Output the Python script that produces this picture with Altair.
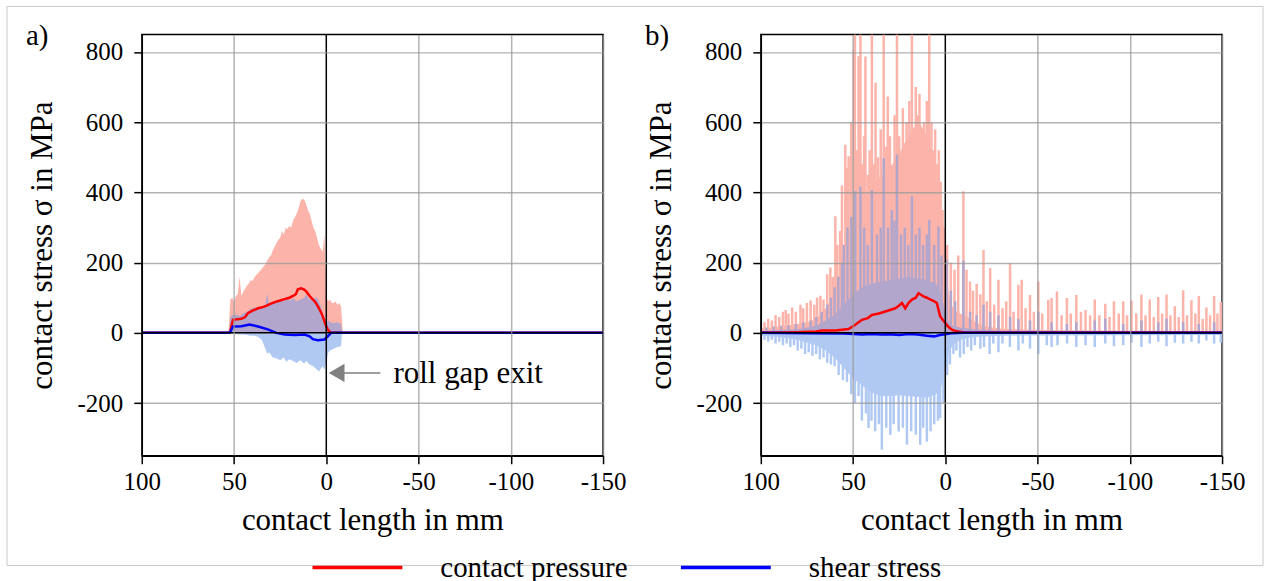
import altair as alt
import pandas as pd

FONT = "Liberation Serif"
PINK = "#fcb3a9"
PURPLE = "#b3a6cc"
LBLUE = "#b0c9f3"
GRAY = "#808080"

# ---------------- panel a: raw contact pressure (upper envelope) ----------------
pa_p_x = [53, 52, 51, 50, 49, 48, 47, 46, 45, 44, 43, 42, 41, 40, 39, 38, 37, 36, 35, 34,
          33, 32, 31, 30, 29, 28, 27, 26, 25, 24, 23, 22, 21, 20, 19, 18, 17, 16, 15, 14,
          13, 12, 11, 10, 9, 8, 7, 6, 5, 4, 3, 2, 1, 0, -1, -2, -3, -4, -5, -6, -7, -8, -9]
pa_p_hi = [0, 95, 100, 88, 105, 110, 160, 105, 118, 125, 135, 140, 150, 148, 158, 165, 170, 176, 182, 190,
           195, 205, 215, 220, 235, 245, 255, 265, 270, 290, 280, 300, 295, 305, 300, 320, 330, 340, 355, 375,
           382, 380, 368, 350, 340, 320, 300, 290, 270, 250, 240, 230, 280, 100, 90, 95, 85, 85, 90, 80, 85, 75, 0]

# panel a: raw shear stress band
pa_s_x = [52.5, 52, 51, 49, 47, 45, 43, 41, 39, 37, 35, 33, 32, 31, 29, 27, 25, 23, 21.7, 20,
          18, 16, 14, 12, 10.9, 9, 7, 5, 4, 2, 1, 0, -1, -2, -4, -6, -8, -8.5]
pa_s_hi = [0, 45, 50, 52, 48, 55, 60, 68, 72, 70, 75, 80, 113, 78, 85, 90, 95, 88, 104, 92,
           98, 90, 95, 100, 110, 95, 98, 100, 90, 60, 37, 30, 35, 30, 28, 30, 25, 0]
pa_s_lo = [0, -3, -3, -4, -5, -5, -6, -8, -8, -12, -20, -45, -60, -55, -70, -72, -78, -70, -82, -75,
           -80, -86, -78, -88, -80, -90, -95, -105, -110, -95, -105, -85, -57, -50, -45, -40, -38, 0]

# panel a: smoothed curves
pa_r_x = [100, 52.5, 52, 50.6, 46, 44, 42.5, 40, 37, 34, 32.6, 30, 27.1, 25, 22.6, 20, 18.1, 16.5,
          15.4, 13.6, 12, 10.9, 9, 7.3, 6, 4.6, 3, 1.9, 0.5, -0.8, -2.6, -150]
pa_r_y = [0, 0, 5, 37, 40, 45, 56, 63, 70, 74, 77, 83, 89, 92, 96, 100, 105, 110,
          124, 127, 123, 118, 105, 95, 88, 76, 60, 47, 25, 9, 0, 0]
pa_b_x = [100, 52.5, 52, 50.6, 46, 41.6, 37, 31.7, 27.1, 22.6, 17.2, 11.8, 9, 7.3, 4.6, 1, -0.8, -2.6, -150]
pa_b_y = [0, 0, 3, 18, 19, 24, 18, 10, 0, -5, -6, -5, -10, -18, -21, -19, -10, 0, 0]

# ---------------- panel b: raw contact pressure ----------------
pb_pb_x = [100, 90, 80, 75, 70, 66, 62, 58, 55, 52, 50, 46, 42, 38, 34, 30, 26, 22, 18, 14,
           10, 6, 3, 1, 0, -1, -3, -6, -10, -15, -20, -30, -50, -100, -150]
pb_pb_hi = [12, 18, 25, 30, 40, 60, 95, 150, 220, 290, 330, 380, 410, 430, 450, 470, 500, 540, 580, 600,
            560, 490, 400, 300, 230, 140, 80, 60, 50, 35, 20, 12, 8, 5, 5]

pb_ps_x = [98, 96, 94, 92, 90, 88, 86.5, 85, 83, 81, 78.5, 77, 75, 73, 71, 69.5, 67.7, 66, 64, 62.3,
           61, 59.6, 58.5, 57, 56, 54.2, 53.3, 52.4, 51, 49.7, 49, 48, 47, 46, 45, 44, 43.3, 42, 41, 39.8,
           38.5, 37.8, 36.5, 35, 33.4, 32.3, 31.2, 30, 28.5, 27.5, 26.2, 25, 24, 23, 22, 21, 19.5, 18.1, 17, 16,
           15, 14, 13, 11.5, 10, 8.7, 7.5, 6.5, 5.5, 4.5, 3.5, 2.5, 1.5, 0.5, -1, -3, -5, -7, -9.8, -11.5,
           -13.4, -15, -17, -19, -20.7, -22.5, -24.3, -26.5, -28.8, -31, -33, -35.1, -37, -39.6, -41.4, -43.5,
           -45.9, -48, -50.4, -52.5, -55.8, -57.6, -60.5, -63, -65.9, -68, -71, -73.5, -76, -78.5, -81, -83.5,
           -86.7, -89, -91.4, -94, -96.4, -98.5, -100.9, -103.5, -106.3, -108.5, -110.8, -113, -115.4, -117.5,
           -119.9, -122, -124.4, -126.5, -128.9, -131, -133.4, -135.5, -137.4, -139.5, -141.5, -143.5, -145.7,
           -147.5, -149.3]
pb_ps_y = [30, 40, 35, 50, 45, 60, 65, 55, 72, 60, 80, 70, 85, 92, 80, 100, 106, 95, 167, 186,
           160, 332, 250, 290, 420, 536, 470, 503, 600, 807, 850, 520, 788, 850, 480, 560, 787, 450, 520, 850,
           480, 712, 500, 580, 850, 530, 673, 560, 470, 620, 850, 560, 500, 640, 540, 600, 660, 850, 560, 700,
           620, 680, 560, 600, 660, 850, 600, 520, 580, 480, 520, 430, 350, 300, 250, 200, 180, 220, 403, 180,
           146, 120, 140, 110, 236, 90, 185, 80, 151, 70, 90, 199, 60, 137, 151, 70,
           108, 60, 146, 55, 94, 99, 118, 50, 99, 55, 108, 60, 65, 50, 95, 50,
           83, 45, 90, 55, 90, 50, 92, 55, 109, 50, 95, 45, 102, 55,
           109, 50, 76, 45, 121, 50, 93, 55, 105, 40, 72, 50, 105,
           55, 88]

# panel b: raw shear stress
pb_sb_x = [100, 90, 80, 70, 65, 60, 55, 50, 45, 40, 35, 30, 25, 20, 15, 10, 5, 2, 0, -2,
           -4, -8, -15, -30, -150]
pb_sb_hi = [5, 8, 10, 20, 35, 50, 80, 110, 130, 140, 145, 150, 155, 160, 155, 150, 140, 110, 55, 30,
            20, 15, 10, 6, 5]
pb_sb_lo = [-8, -12, -20, -35, -50, -70, -100, -130, -150, -170, -180, -180, -178, -180, -182, -185, -175, -150, -100, -55,
            -35, -20, -12, -8, -6]

pb_sp_x = [97, 93, 89, 85, 81, 77, 73, 70, 67, 64, 62, 60, 58, 56, 55, 53, 51, 48.8, 46, 44,
           42, 39.8, 37, 35, 33.4, 31, 29, 27.5, 26.2, 24, 22, 20, 18.1, 16, 14, 12, 10, 8.7, 6, 3.7,
           2, -0.7, -3, -5.3, -9.8, -13.4, -17, -20.7, -24.3, -28.8, -35.1, -39.6, -45.9, -50.4, -57.6, -65.9,
           -71, -81, -86.7, -96.4, -106.3, -115.4, -119.9, -128.9, -137.4, -145.7]
pb_sp_y = [15, 18, 20, 22, 25, 30, 35, 45, 60, 80, 100, 130, 160, 200, 250, 300, 330, 403, 417, 300,
           250, 407, 280, 300, 498, 300, 350, 320, 508, 280, 300, 250, 389, 280, 300, 250, 280, 322, 250, 303,
           220, 208, 120, 90, 205, 60, 50, 80, 60, 50, 45, 40, 35, 60, 30, 25,
           30, 35, 40, 25, 35, 30, 40, 30, 25, 30]

pb_sn_x = [98, 96, 94, 92, 90, 88, 86, 84, 82, 80, 78, 76, 74, 72, 70, 68, 66, 64, 62, 60,
           57.8, 55.5, 53.3, 51, 49, 47, 45.2, 43, 41.6, 40, 38, 36, 34.4, 32, 29.8, 28, 25.3, 23, 20.8, 18.5,
           16, 13.6, 12, 10, 8, 6, 4, 2.8, 1, -1, -2.5, -4.4, -6, -8, -10, -12, -14, -16, -19, -21,
           -24, -26, -28.8, -31, -35, -39.6, -42, -45.9, -50.4, -55, -57.6, -60.8, -66, -71, -76, -81, -86.7,
           -91.4, -96.4, -100.9, -106.3, -110.8, -115.4, -119.9, -124.4, -128.9, -133.4, -137.4, -141.5,
           -145.7, -149.3]
pb_sn_y = [-20, -25, -20, -30, -25, -35, -30, -40, -35, -50, -45, -60, -55, -65, -60, -75, -70, -85, -90, -95,
           -120, -135, -140, -175, -200, -180, -250, -230, -271, -250, -280, -260, -333, -270, -291, -260, -281, -270, -319, -280,
           -290, -319, -270, -310, -280, -260, -250, -243, -200, -120, -90, -60, -50, -70, -60, -40, -50, -35, -45, -40,
           -60, -30, -55, -30, -40, -50, -30, -45, -60, -35, -40, -35, -30, -40, -35, -40, -30,
           -38, -35, -28, -40, -30, -25, -38, -28, -30, -25, -30, -22,
           -30, -28]

# panel b: smoothed curves
pb_r_x = [100, 90, 80, 75, 70, 66.8, 59.6, 52.4, 48.8, 45.2, 42, 39.8, 36, 32.5, 30, 27.1, 25, 23.5, 21.7, 20,
          18.1, 16, 14.5, 13, 11.8, 10, 8.2, 6, 4.6, 2.8, 1.5, 0, -1.5, -3.5, -5, -7, -10, -20, -50, -100, -150]
pb_r_y = [1, 1, 2, 3, 4, 7, 7, 11, 23, 37, 42, 51, 55, 61, 65, 70, 78, 85, 70, 85,
          95, 100, 113, 108, 104, 100, 95, 90, 85, 47, 38, 28, 18, 9, 6, 4, 2, 1, 1, 1, 1]
pb_b_x = [100, 75, 55, 50, 45, 40, 35, 30, 25, 20, 15, 10, 6, 3, 0, -3, -10, -150]
pb_b_y = [0, -1, -2, -3, -5, -3, -5, -4, -6, -3, -5, -8, -10, -6, -4, -1, 0, 0]

SERIES = ["contact pressure", "shear stress"]
x_ticks = [100, 50, 0, -50, -100, -150]
y_ticks = [-200, 0, 200, 400, 600, 800]

# ---------------- scales / axes ----------------
xscale = alt.Scale(domain=[-150, 100], reverse=True, nice=False, zero=False)
yscale = alt.Scale(domain=[-350, 850], nice=False, zero=False)
grid_op = {"condition": {"test": "datum.value === 0", "value": 0}, "value": 0.75}
common_axis = dict(labelFont=FONT, labelFontSize=25, labelColor="black", titleFont=FONT, titleFontSize=31,
                   titleColor="black", titleFontWeight="normal", tickSize=8, tickColor="black", tickWidth=1.5,
                   domainColor="black", domainWidth=1.5, gridColor="#999999", gridWidth=1.5,
                   gridOpacity=grid_op, labelFlush=False, zindex=1, labelExpr="datum.value + ''")
xaxis = alt.Axis(values=x_ticks, title="contact length in mm", labelPadding=6, titlePadding=11, **common_axis)
yaxis = alt.Axis(values=y_ticks, title="contact stress σ in MPa", labelPadding=11, titlePadding=19, **common_axis)


def X(f="x"):
    return alt.X(f"{f}:Q", scale=xscale, axis=xaxis)


def Y(f="y"):
    return alt.Y(f"{f}:Q", scale=yscale, axis=yaxis)


def area(x, hi, lo, color):
    d = pd.DataFrame({"x": x, "y": hi, "lo": lo})
    return alt.Chart(d).mark_area(color=color, opacity=1, clip=True, orient="vertical").encode(
        x=X(), y=Y(), y2="lo:Q")


def spikes(x, y, color):
    d = pd.DataFrame({"x": x, "y": y, "base": [0] * len(x)})
    return alt.Chart(d).mark_rule(color=color, strokeWidth=2.5, clip=True).encode(
        x=X(), y=Y(), y2="base:Q")


def smooth(rx, ry, bx, by):
    d = pd.concat([
        pd.DataFrame({"x": rx, "y": ry, "series": SERIES[0]}),
        pd.DataFrame({"x": bx, "y": by, "series": SERIES[1]}),
    ])
    legend = alt.Legend(orient="none", legendX=169, legendY=487, direction="horizontal", title=None,
                        symbolType="stroke", symbolSize=8100, symbolStrokeWidth=3.5, labelOffset=36,
                        columnPadding=46, labelFont=FONT, labelFontSize=29, labelColor="black",
                        labelLimit=400, padding=0)
    return alt.Chart(d).mark_line(strokeWidth=2.5, clip=True).encode(
        x=X(), y=Y(),
        color=alt.Color("series:N", scale=alt.Scale(domain=SERIES, range=["#ff0000", "#0000ff"]), legend=legend),
        order=alt.Order("x:Q"))


zero_df = pd.DataFrame({"v": [0]})
hline = alt.Chart(zero_df).mark_rule(color="black", strokeWidth=1.5).encode(y=Y("v"))
vline = alt.Chart(zero_df).mark_rule(color="black", strokeWidth=1.5).encode(x=X("v"))


def panel_label(txt):
    return alt.Chart(pd.DataFrame({"t": [txt]})).mark_text(
        align="left", baseline="alphabetic", fontSize=29, font=FONT, color="black").encode(
        text="t:N", x=alt.value(-116), y=alt.value(11))


# annotation (panel a)
ann_text = alt.Chart(pd.DataFrame({"x": [-36.4], "y": [-117], "t": ["roll gap exit"]})).mark_text(
    align="left", baseline="middle", fontSize=31, font=FONT, color="black").encode(x=X(), y=Y(), text="t:N")
ann_line = alt.Chart(pd.DataFrame({"x": [-29.3, -9.5], "y": [-114, -114]})).mark_line(
    color=GRAY, strokeWidth=1.5).encode(x=X(), y=Y())
ann_head = alt.Chart(pd.DataFrame({"x": [-5.6], "y": [-114]})).mark_point(
    shape="triangle-left", filled=True, size=330, color=GRAY, opacity=1).encode(x=X(), y=Y())

frame = alt.Chart(pd.DataFrame({"k": [1]})).mark_rect(
    fillOpacity=0, stroke="#c8c8c8", strokeWidth=1).encode(
    x=alt.value(-135), x2=alt.value(1123), y=alt.value(-28), y2=alt.value(532))

panel_a = alt.layer(
    frame,
    area(pa_p_x, pa_p_hi, [0] * len(pa_p_x), PINK),
    area(pa_s_x, pa_s_hi, [0] * len(pa_s_x), PURPLE),
    area(pa_s_x, [0] * len(pa_s_x), pa_s_lo, LBLUE),
    smooth(pa_r_x, pa_r_y, pa_b_x, pa_b_y),
    hline, vline,
    ann_line, ann_head, ann_text,
    panel_label("a)"),
).properties(width=462, height=422)

panel_b = alt.layer(
    area(pb_pb_x, pb_pb_hi, [0] * len(pb_pb_x), PINK),
    spikes(pb_ps_x, pb_ps_y, PINK),
    area(pb_sb_x, pb_sb_hi, [0] * len(pb_sb_x), PURPLE),
    spikes(pb_sp_x, pb_sp_y, PURPLE),
    area(pb_sb_x, [0] * len(pb_sb_x), pb_sb_lo, LBLUE),
    spikes(pb_sn_x, pb_sn_y, LBLUE),
    smooth(pb_r_x, pb_r_y, pb_b_x, pb_b_y),
    hline, vline,
    panel_label("b)"),
).properties(width=462, height=422)

chart = alt.hconcat(panel_a, panel_b, spacing=158, bounds="flush").configure(
    font=FONT,
    style={"guide-label": {"font": FONT, "fill": "black"},
           "guide-title": {"font": FONT, "fill": "black", "fontWeight": "normal"}},
).configure_view(
    stroke="black", strokeWidth=1.5
).configure_axis(
    labelFont=FONT, titleFont=FONT, labelFontSize=25, titleFontSize=31, labelColor="black",
    titleColor="black", titleFontWeight="normal", tickColor="black", tickWidth=1.5,
    domainColor="black", domainWidth=1.5, gridColor="#999999", gridWidth=1.5, labelFlush=False
).configure_legend(labelFont=FONT).configure_text(font=FONT).properties(
    padding={"left": 5, "top": 4, "right": 5, "bottom": 0},
    background="white",
)

chart.save("out.html", embed_options={"renderer": "svg", "actions": False})
